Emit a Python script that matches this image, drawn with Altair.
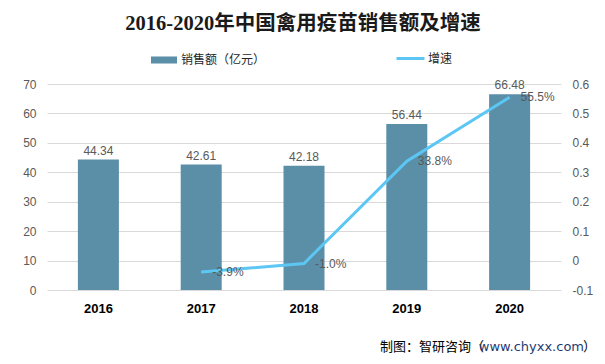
import altair as alt
import pandas as pd

years = ["2016", "2017", "2018", "2019", "2020"]
sales = [44.34, 42.61, 42.18, 56.44, 66.48]
growth = [None, -0.039, -0.010, 0.338, 0.555]
bar_series = "销售额（亿元）"
line_series = "增速"
left_ticks = [0, 10, 20, 30, 40, 50, 60, 70]
right_ticks = [-0.1, 0, 0.1, 0.2, 0.3, 0.4, 0.5, 0.6]
title_text = "2016-2020年中国禽用疫苗销售额及增速"

BAR_C = "#5B8FA7"
LINE_C = "#5CC7F4"
GREY = "#595959"
CJK = "Noto Sans CJK SC"

df = pd.DataFrame({
    "year": years,
    "sales": sales,
    "sales_label": [f"{v:.2f}" for v in sales],
    "bar_series": bar_series,
})
gdf = pd.DataFrame({
    "year": years[1:],
    "growth": growth[1:],
    "growth_label": [f"{v*100:.1f}%" for v in growth[1:]],
    "line_series": line_series,
})

xenc = alt.X("year:N", title=None,
             scale=alt.Scale(paddingInner=0.6, paddingOuter=0.3),
             axis=alt.Axis(labelAngle=0, labelFontWeight="bold", labelColor="#000000",
                           labelFontSize=13, labelFont="Liberation Sans", ticks=False,
                           domain=False, labelPadding=12))

yleft = alt.Y("sales:Q", title=None,
              scale=alt.Scale(domain=[0, 70], nice=False),
              axis=alt.Axis(values=left_ticks, grid=True, gridColor="#d9d9d9", domain=False,
                            ticks=False, labelColor=GREY, labelFontSize=12,
                            labelFont="Liberation Sans", labelPadding=11, orient="left"))

bars = alt.Chart(df).mark_bar(size=41).encode(
    x=xenc,
    y=yleft,
    color=alt.Color("bar_series:N",
                    scale=alt.Scale(domain=[bar_series], range=[BAR_C]),
                    legend=alt.Legend(title=None, orient="none", legendX=103, legendY=-38,
                                      symbolType="M-1,-0.27L1,-0.27L1,0.27L-1,0.27Z",
                                      symbolSize=676, labelFont=CJK, labelFontSize=12,
                                      labelColor="#262626", labelOffset=3)),
)
bar_text = alt.Chart(df).mark_text(dy=-9, fontSize=12, color=GREY,
                                   font="Liberation Sans").encode(
    x=xenc, y=yleft, text="sales_label:N")

yright = alt.Y("growth:Q", title=None,
               scale=alt.Scale(domain=[-0.1, 0.6], nice=False, zero=False),
               axis=alt.Axis(values=right_ticks, grid=False, domain=False, ticks=False,
                             labelColor=GREY, labelFontSize=12, labelFont="Liberation Sans",
                             labelPadding=11, orient="right",
                             labelExpr="toString(round(datum.value*10)/10)"))

line = alt.Chart(gdf).mark_line(strokeWidth=3).encode(
    x=xenc, y=yright,
    stroke=alt.Stroke("line_series:N",
                      scale=alt.Scale(domain=[line_series], range=[LINE_C]),
                      legend=alt.Legend(title=None, orient="none", legendX=348, legendY=-41,
                                        symbolSize=784, symbolStrokeWidth=3,
                                        labelFont=CJK, labelFontSize=12,
                                        labelColor="#262626", labelOffset=2)),
)
line_text = alt.Chart(gdf).mark_text(align="left", baseline="middle", dx=11, fontSize=12,
                                     color=GREY, font="Liberation Sans").encode(
    x=xenc, y=yright, text="growth_label:N")

src = pd.DataFrame({"a": ["制图：智研咨询（"], "b": ["www.chyxx.com"], "c": ["）"],
                    "t": [title_text]})
s1 = alt.Chart(src).mark_text(align="right", baseline="middle", fontSize=13, font=CJK,
                              color="#000000").encode(
    x=alt.value(437), y=alt.value(263), text="a:N")
s2 = alt.Chart(src).mark_text(align="right", baseline="middle", fontSize=13,
                              font="DejaVu Sans", color="#1F3B73").encode(
    x=alt.value(537), y=alt.value(263), text="b:N")
s3 = alt.Chart(src).mark_text(align="right", baseline="middle", fontSize=13, font=CJK,
                              color="#000000").encode(
    x=alt.value(549), y=alt.value(263), text="c:N")
ttl = alt.Chart(src).mark_text(align="center", baseline="middle", fontSize=20.5,
                               font="Liberation Serif, Noto Sans CJK SC", fontWeight="bold",
                               color="#1a1a1a").encode(
    x=alt.value(256), y=alt.value(-60), text="t:N")

left_layer = alt.layer(bars, bar_text)
right_layer = alt.layer(line, line_text)

chart = alt.layer(left_layer, right_layer, s1, s2, s3, ttl).resolve_scale(
    y="independent", color="independent"
).properties(
    width=514, height=206,
    padding={"left": 39, "top": 76, "right": 36, "bottom": 66},
    autosize=alt.AutoSizeParams(type="none"),
).configure_view(stroke=None).configure_legend(padding=0)

chart.save("out.html", embed_options={"renderer": "svg", "actions": False})
